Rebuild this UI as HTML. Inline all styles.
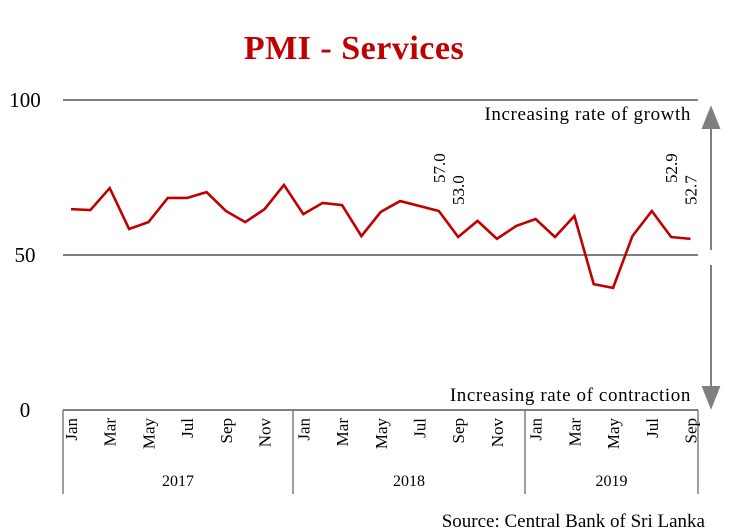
<!DOCTYPE html>
<html><head><meta charset="utf-8"><style>
body{margin:0;background:#fff;}
svg{display:block;font-family:"Liberation Serif",serif;}
</style></head><body>
<svg id="c" width="750" height="532" viewBox="0 0 750 532">
<text x="354" y="59" text-anchor="middle" font-size="34" font-weight="bold" fill="#c00000" letter-spacing="0.5">PMI - Services</text>
<g id="axes"></g>
<g id="plot"></g>
<text x="705" y="527" text-anchor="end" font-size="19" fill="#000">Source: Central Bank of Sri Lanka</text>
</svg>
<script>
const months=["Jan","Feb","Mar","Apr","May","Jun","Jul","Aug","Sep","Oct","Nov","Dec"];
const years=["2017","2018","2019"];
const values=[64.8,64.5,71.6,58.4,60.6,68.4,68.4,70.3,64.2,60.6,64.8,72.6,63.2,66.8,66.1,56.1,63.9,67.4,65.8,64.2,55.8,61.0,55.2,59.4,61.6,55.8,62.6,40.6,39.4,56.1,64.2,55.8,55.2];
const yTicks=[0,50,100];
const annotations=[{i:19,t:"57.0"},{i:20,t:"53.0"},{i:31,t:"52.9"},{i:32,t:"52.7"}];
const NS="http://www.w3.org/2000/svg";
const X0=71,DX=19.36;
const x=i=>X0+i*DX;
const y=v=>255-(v-50)*3.1;
const ax=document.getElementById('axes'),pl=document.getElementById('plot');
function mk(tag,attrs,parent,text){const e=document.createElementNS(NS,tag);for(const k in attrs)e.setAttribute(k,attrs[k]);if(text!==undefined)e.textContent=text;parent.appendChild(e);return e;}
yTicks.forEach(t=>{
  if(t>0){const g=mk('line',{x1:63,x2:698,y1:y(t),y2:y(t),stroke:'#7f7f7f','stroke-width':2},ax);
  
  }
  const lb=mk('text',{x:25,y:y(t)+7,'text-anchor':'middle','font-size':21},ax,String(t));
  
  
});
const xl=mk('line',{x1:63,x2:698,y1:410,y2:410,stroke:'#7f7f7f','stroke-width':2},ax);


const bounds=[63,293,525,698];
bounds.forEach((b,k)=>{const d=mk('line',{x1:b,x2:b,y1:410,y2:494,stroke:'#7f7f7f','stroke-width':1.5},ax);
  
  });
years.forEach((yr,k)=>{const t=mk('text',{x:(bounds[k]+bounds[k+1])/2,y:486,'text-anchor':'middle','font-size':16},ax,yr);
  
  });
values.forEach((v,i)=>{ if(i%2===0){const m=months[i%12];
  const t=mk('text',{transform:`translate(${x(i)+6},418) rotate(-90)`,'text-anchor':'end','font-size':17},ax,m);
  
  }});
const a1=mk('path',{d:'M711,250 L711,125 M703,128 L711,108 L719,128 Z',stroke:'#7f7f7f','stroke-width':2,fill:'#7f7f7f'},ax);


const a2=mk('path',{d:'M711,265 L711,390 M703,387 L711,407 L719,387 Z',stroke:'#7f7f7f','stroke-width':2,fill:'#7f7f7f'},ax);


const g1=mk('text',{x:691,y:120,'text-anchor':'end','font-size':19,'letter-spacing':'0.6'},ax,'Increasing rate of growth');


const g2=mk('text',{x:691,y:401,'text-anchor':'end','font-size':19,'letter-spacing':'0.6'},ax,'Increasing rate of contraction');


const line=mk('polyline',{points:values.map((v,i)=>x(i)+','+y(v)).join(' '),fill:'none',stroke:'#c00000','stroke-width':2.6,'stroke-linejoin':'miter'},pl);


annotations.forEach(a=>{const t=mk('text',{transform:`translate(${x(a.i)+6},${a.i===19||a.i===31?183:205}) rotate(-90)`,'font-size':17},pl,a.t);
  
  });
</script>
</body></html>
